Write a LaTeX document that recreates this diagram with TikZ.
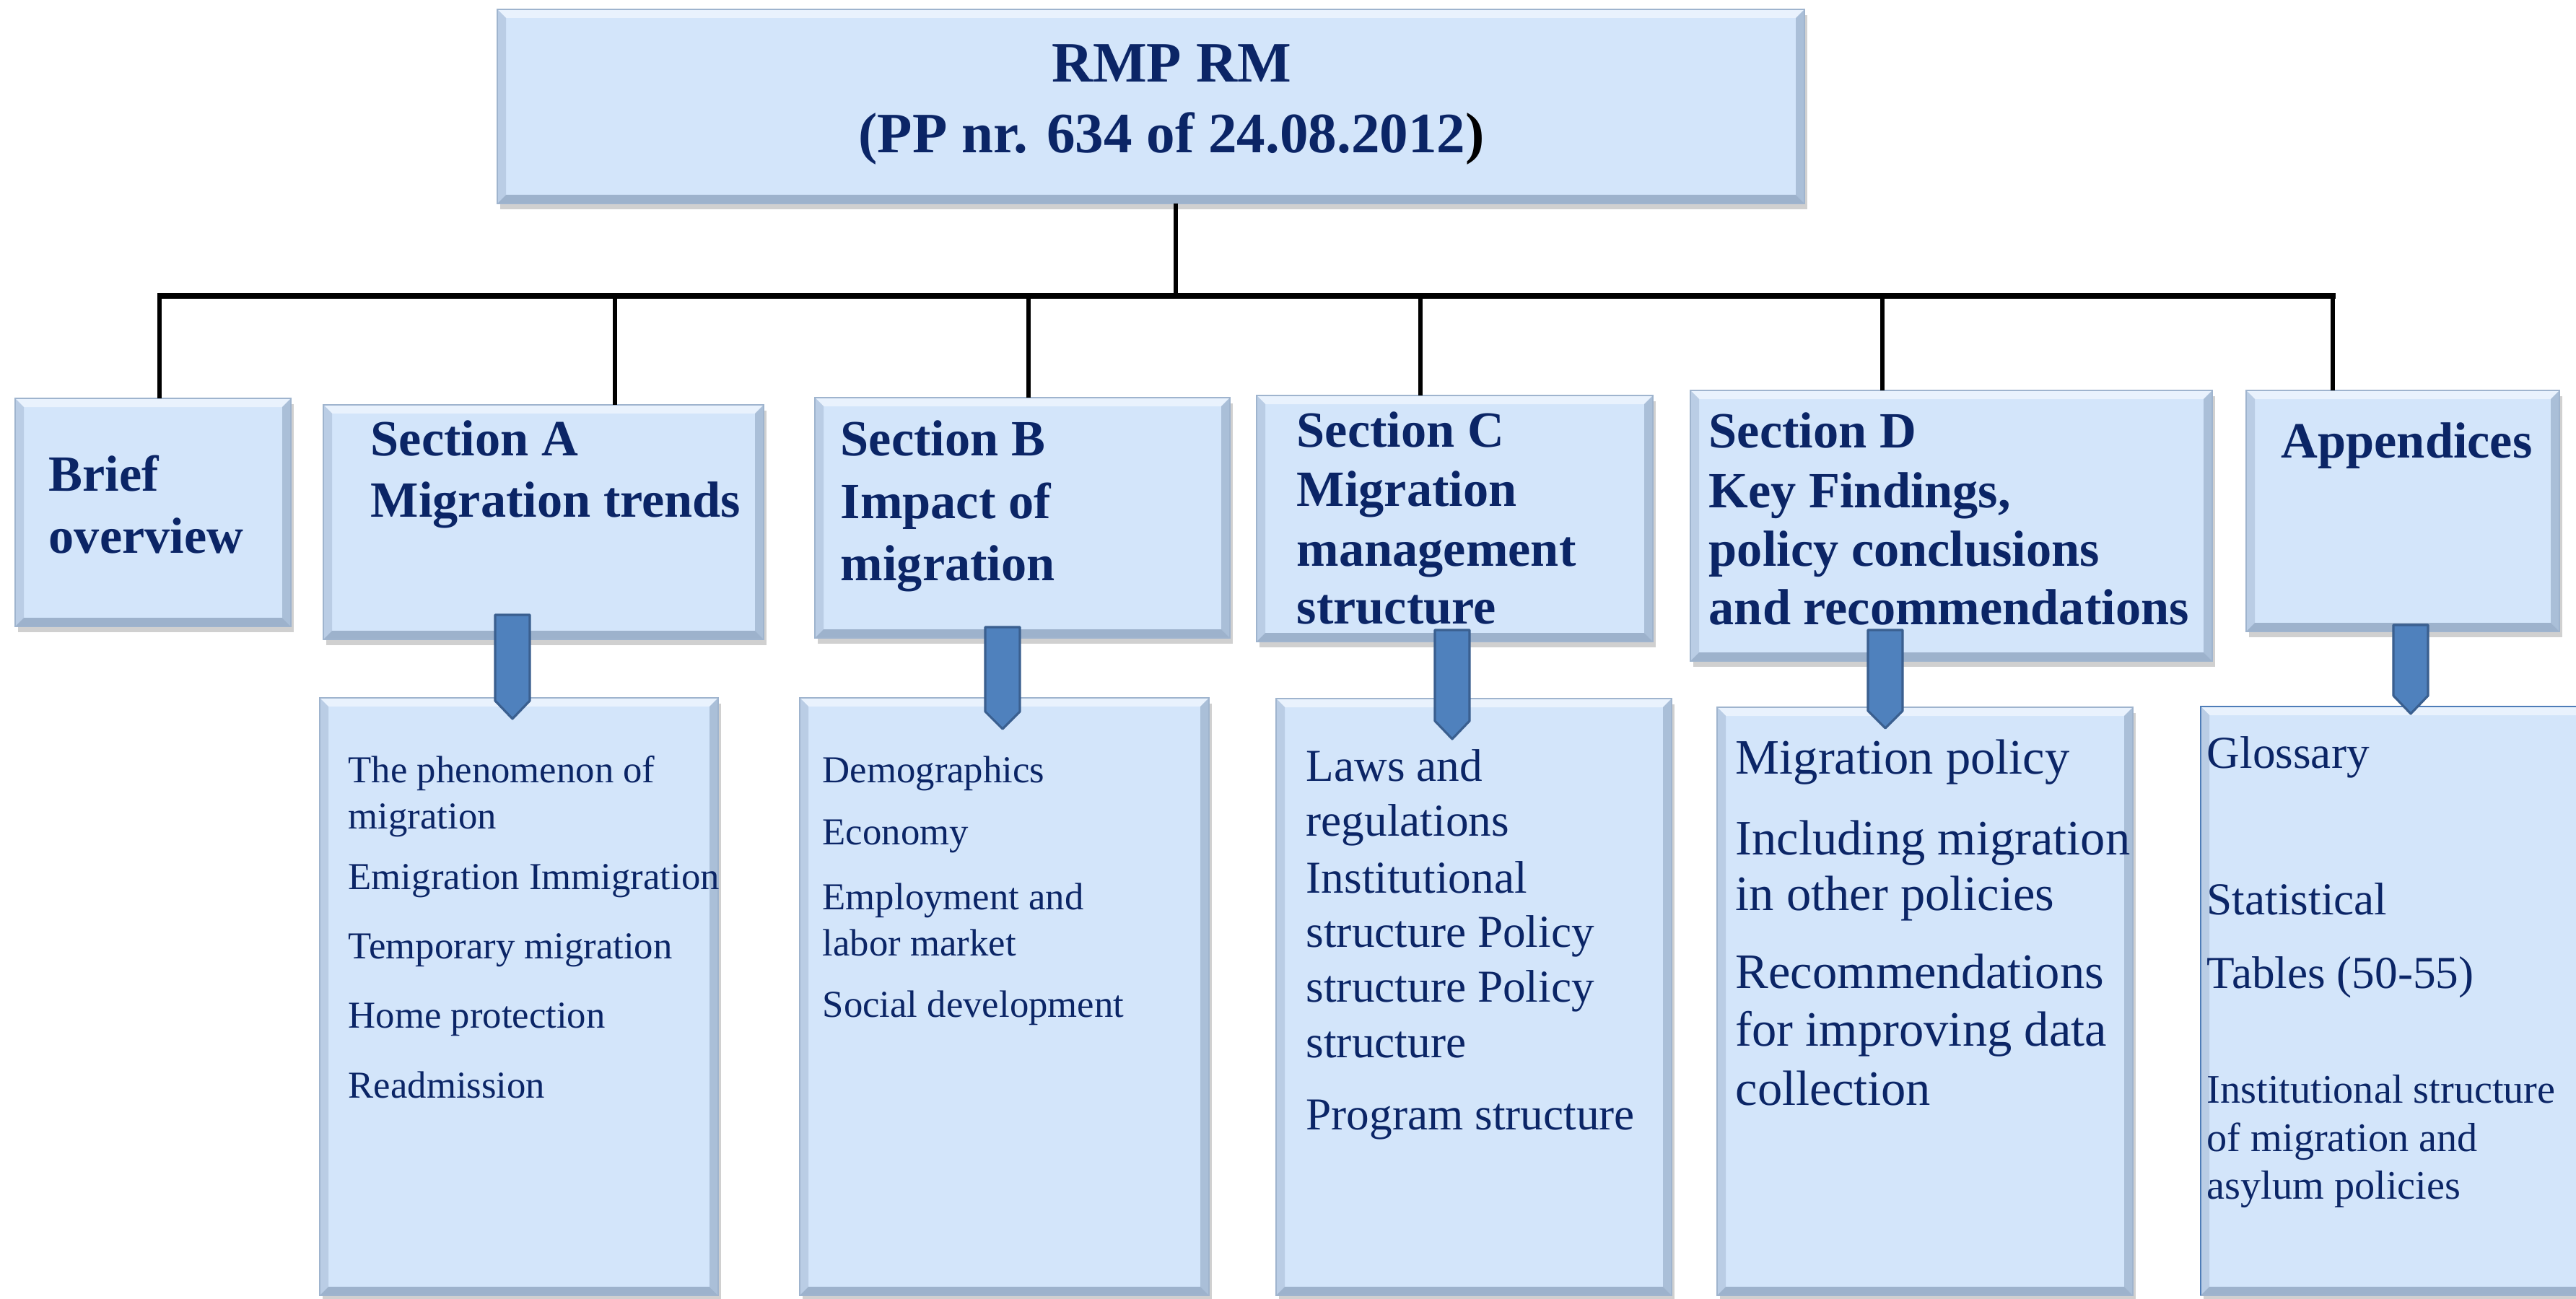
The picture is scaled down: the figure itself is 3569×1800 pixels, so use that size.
\documentclass[tikz,border=0pt]{standalone}
\usepackage{fontspec}
\setmainfont{Liberation Serif}
\usetikzlibrary{fit,calc,shadows}
\definecolor{bxfill}{HTML}{D3E5FA}
\definecolor{bvtop}{HTML}{E9F2FD}
\definecolor{bvleft}{HTML}{BACDE5}
\definecolor{bvright}{HTML}{AABFD8}
\definecolor{bvbot}{HTML}{9DB2CC}
\definecolor{bxline}{HTML}{9FB4CE}
\definecolor{navy}{HTML}{0B2566}
\definecolor{arwfill}{HTML}{4F81BD}
\definecolor{arwline}{HTML}{3A5F8F}
\definecolor{appline}{HTML}{4F7DB8}
\newcommand\bevelit[1]{%
\fill[bvtop] (#1.north west) -- (#1.north east) -- ($(#1.north east)+(-12,12)$) -- ($(#1.north west)+(12,12)$) -- cycle;
\fill[bvleft] (#1.north west) -- ($(#1.north west)+(12,12)$) -- ($(#1.south west)+(12,-12)$) -- (#1.south west) -- cycle;
\fill[bvright] (#1.north east) -- ($(#1.north east)+(-12,12)$) -- ($(#1.south east)+(-12,-12)$) -- (#1.south east) -- cycle;
\fill[bvbot] (#1.south west) -- ($(#1.south west)+(12,-12)$) -- ($(#1.south east)+(-12,-12)$) -- (#1.south east) -- cycle;
\draw[bxline, line width=0.6pt] (#1.north west) rectangle (#1.south east);}
\newcommand\dnarrow[4]{% xc, ytop, yshoulder, ytip
\filldraw[arwfill, draw=arwline, line width=0.9pt, line join=round]
 (#1-24,#2) -- (#1+24,#2) -- (#1+24,#3) -- (#1,#4) -- (#1-24,#3) -- cycle;}
\begin{document}
\begin{tikzpicture}[x=0.01cm,y=-0.01cm,
  box/.style={draw=bxline, line width=0.6pt, fill=bxfill, inner sep=0pt, outer sep=0pt,
    drop shadow={shadow xshift=0.04cm, shadow yshift=-0.08cm, opacity=0.3, fill=black!60}},
  hd/.style={anchor=base west, inner sep=0pt, text=navy, font=\fontsize{20}{24}\selectfont\bfseries},
  ttl/.style={anchor=base, inner sep=0pt, text=navy, font=\fontsize{22.5}{27}\selectfont\bfseries},
  la/.style={anchor=base west, inner sep=0pt, text=navy, font=\fontsize{15}{18}\selectfont},
  lc/.style={anchor=base west, inner sep=0pt, text=navy, font=\fontsize{18}{21}\selectfont},
  ld/.style={anchor=base west, inner sep=0pt, text=navy, font=\fontsize{19.5}{23}\selectfont},
  le/.style={anchor=base west, inner sep=0pt, text=navy, font=\fontsize{16}{19}\selectfont},
  conn/.style={draw=black, line width=0.062cm}]
\useasboundingbox (0,0) rectangle (3569,1800);
\fill[white] (0,0) rectangle (3569,1800);

% boxes
\node[box, fit={(689,13) (2500,282)}] (top) {};
\node[box, fit={(21,552) (403,868)}] (brief) {};
\node[box, fit={(448,561) (1058,886)}] (secA) {};
\node[box, fit={(1129,551) (1704,884)}] (secB) {};
\node[box, fit={(1741,548) (2290,889)}] (secC) {};
\node[box, fit={(2342,541) (3065,916)}] (secD) {};
\node[box, fit={(3112,541) (3546,875)}] (app) {};
\node[box, fit={(443,967) (995,1795)}] (lA) {};
\node[box, fit={(1108,967) (1675,1795)}] (lB) {};
\node[box, fit={(1768,968) (2316,1795)}] (lC) {};
\node[box, fit={(2379,980) (2955,1795)}] (lD) {};
\node[box, fit={(3049,979) (3620,1795)}] (lE) {};
\bevelit{top}\bevelit{brief}\bevelit{secA}\bevelit{secB}\bevelit{secC}\bevelit{secD}\bevelit{app}
\bevelit{lA}\bevelit{lB}\bevelit{lC}\bevelit{lD}\bevelit{lE}
\draw[appline, line width=0.7pt] (lE.south west) -- (lE.north west) -- (lE.north east);

% title
\node[ttl] (t1) at (1623,114) {RMP RM};
\node[ttl] (t2) at (1623,212) {(PP nr. 634 of 24.08.2012{\color{black})}};

% headers
\node[hd] (h1a) at (67,680) {Brief};
\node[hd] (h1b) at (67,766) {overview};
\node[hd] (h2a) at (513,631) {Section A};
\node[hd] (h2b) at (513,716) {Migration trends};
\node[hd] (h3a) at (1164,631) {Section B};
\node[hd] (h3b) at (1164,718) {Impact of};
\node[hd] (h3c) at (1164,804) {migration};
\node[hd] (h4a) at (1796,619) {Section C};
\node[hd] (h4b) at (1796,701) {Migration};
\node[hd] (h4c) at (1796,784) {management};
\node[hd] (h4d) at (1796,864) {structure};
\node[hd] (h5a) at (2367,620) {Section D};
\node[hd] (h5b) at (2367,703) {Key Findings,};
\node[hd] (h5c) at (2367,784) {policy conclusions};
\node[hd] (h5d) at (2367,865) {and recommendations};
\node[hd] (h6a) at (3160,634) {Appendices};

% lists
\node[la] (a1) at (482,1084) {The phenomenon of};
\node[la] (a2) at (482,1148) {migration};
\node[la] (a3) at (482,1232) {Emigration Immigration};
\node[la] (a4) at (482,1328) {Temporary migration};
\node[la] (a5) at (482,1424) {Home protection};
\node[la] (a6) at (482,1521) {Readmission};

\node[la] (b1) at (1139,1084) {Demographics};
\node[la] (b2) at (1139,1170) {Economy};
\node[la] (b3) at (1139,1260) {Employment and};
\node[la] (b4) at (1139,1324) {labor market};
\node[la] (b5) at (1139,1409) {Social development};

\node[lc] (c1) at (1809,1082) {Laws and};
\node[lc] (c2) at (1809,1158) {regulations};
\node[lc] (c3) at (1809,1237) {Institutional};
\node[lc] (c4) at (1809,1312) {structure Policy};
\node[lc] (c5) at (1809,1388) {structure Policy};
\node[lc] (c6) at (1809,1465) {structure};
\node[lc] (c7) at (1809,1565) {Program structure};

\node[ld] (d1) at (2404,1072) {Migration policy};
\node[ld] (d2) at (2404,1184) {Including migration};
\node[ld] (d3) at (2404,1261) {in other policies};
\node[ld] (d4) at (2404,1369) {Recommendations};
\node[ld] (d5) at (2404,1449) {for improving data};
\node[ld] (d6) at (2404,1531) {collection};

\node[lc] (e1) at (3057,1064) {Glossary};
\node[lc] (e2) at (3057,1267) {Statistical};
\node[lc] (e3) at (3057,1369) {Tables (50-55)};
\node[le] (e4) at (3057,1528) {Institutional structure};
\node[le] (e5) at (3057,1595) {of migration and};
\node[le] (e6) at (3057,1661) {asylum policies};

% connectors
\coordinate (stem) at (1629,282);
\coordinate (busL) at (221,410);
\coordinate (busR) at (3232,410);
\coordinate (dBrief) at (221,552);
\coordinate (dA) at (852,561);
\coordinate (dB) at (1425,551);
\coordinate (dC) at (1968,548);
\coordinate (dD) at (2608,541);
\coordinate (dApp) at (3232,541);
\draw[conn, line width=0.07cm, line cap=rect] (busL) -- (busR);
\draw[conn] (stem) -- (stem |- busL);
\foreach \d in {dBrief,dA,dB,dC,dD,dApp} \draw[conn] (\d |- busL) -- (\d);

% down arrows
\dnarrow{710}{852}{971}{996}
\dnarrow{1389}{869}{986}{1010}
\dnarrow{2012}{873}{999}{1024}
\dnarrow{2612}{873}{985}{1009}
\dnarrow{3340}{866}{964}{989}
\end{tikzpicture}
\end{document}
